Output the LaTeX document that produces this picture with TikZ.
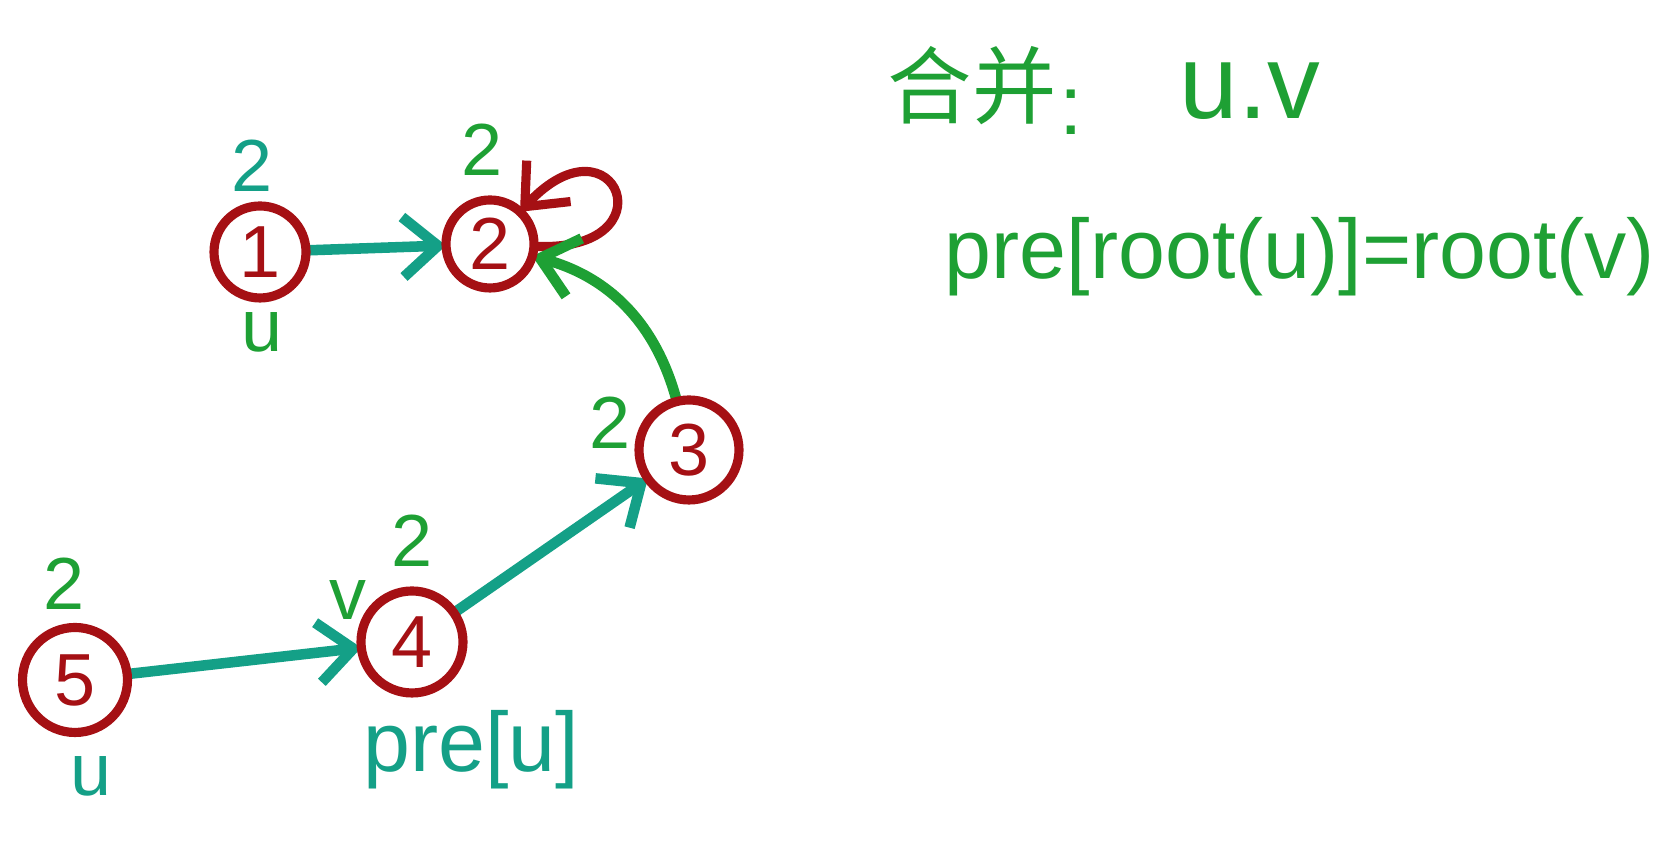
\documentclass[tikz,border=0pt]{standalone}
\usepackage{tikz-network}
\usepackage{fontspec}
\setmainfont{Liberation Sans}
\newfontfamily\cjk{Noto Sans CJK SC}
\usetikzlibrary{arrows.meta}
\definecolor{nodered}{RGB}{165,16,20}
\definecolor{inkgreen}{RGB}{30,160,52}
\definecolor{inkteal}{RGB}{20,160,135}
\newcommand{\digitsize}{\fontsize{21}{25}\selectfont}
\newcommand{\notesize}{\fontsize{24}{28}\selectfont}
\newcommand{\bigsize}{\fontsize{30}{34}\selectfont}
\tikzset{
  inkarrow/.style={-{Straight Barb[length=3.5mm,width=6mm]}},
  loopbarb/.style={{Straight Barb[length=3.5mm,width=6mm]}-},
  ringstyle/.style={draw=nodered, line width=2.6pt},
}

\begin{document}
\begin{tikzpicture}
\useasboundingbox (0,0) rectangle (16.79,8.58);
\Vertex[label=1, x=2.60, y=6.06, size=0.92, color=white, fontcolor=nodered, fontsize=\digitsize, style={ringstyle}]{1}
\Vertex[label=2, x=4.90, y=6.14, size=0.88, color=white, fontcolor=nodered, fontsize=\digitsize, style={ringstyle}]{2}
\Vertex[label=3, x=6.89, y=4.08, size=1.00, color=white, fontcolor=nodered, fontsize=\digitsize, style={ringstyle}]{3}
\Vertex[label=4, x=4.12, y=2.16, size=1.02, color=white, fontcolor=nodered, fontsize=\digitsize, style={ringstyle}]{4}
\Vertex[label=5, x=0.75, y=1.78, size=1.05, color=white, fontcolor=nodered, fontsize=\digitsize, style={ringstyle}]{5}
\Edge[color=inkteal, lw=3pt, style={inkarrow}](1)(2)
\Edge[color=nodered, lw=2.6pt, loopsize=1.4cm, loopposition=22, loopshape=50, style={loopbarb}](2)(2)
\Edge[color=inkgreen, lw=3pt, bend=-30, style={inkarrow}](3)(2)
\Edge[color=inkteal, lw=3pt, style={inkarrow}](4)(3)
\Edge[color=inkteal, lw=3pt, style={inkarrow}](5)(4)
\node[text=inkteal, font=\digitsize] (w1) at (2.52,6.92) {2};
\node[text=inkgreen, font=\digitsize] (w2) at (4.82,7.08) {2};
\node[text=inkgreen, font=\digitsize] (w3) at (6.10,4.35) {2};
\node[text=inkgreen, font=\digitsize] (w4) at (4.12,3.17) {2};
\node[text=inkgreen, font=\digitsize] (w5) at (0.64,2.74) {2};
\node[text=inkgreen, font=\digitsize, inner sep=1pt] (u1) at (2.62,5.26) {u};
\node[text=inkteal, font=\digitsize] (u5) at (0.91,0.82) {u};
\node[text=inkgreen, font=\digitsize] (v4) at (3.48,2.58) {v};
\node[text=inkteal, font=\notesize] (pre4) at (4.71,1.08) {pre[u]};
\node[text=inkgreen, font=\notesize\cjk] (merge) at (9.72,7.72) {合并};
\node[text=inkgreen, font=\notesize] (colon) at (10.71,7.46) {:};
\node[text=inkgreen, font=\bigsize] (uv) at (12.50,7.67) {u.v};
\node[text=inkgreen, font=\notesize] (rule) at (13.00,6.01) {pre[root(u)]=root(v)};
\end{tikzpicture}
\end{document}
